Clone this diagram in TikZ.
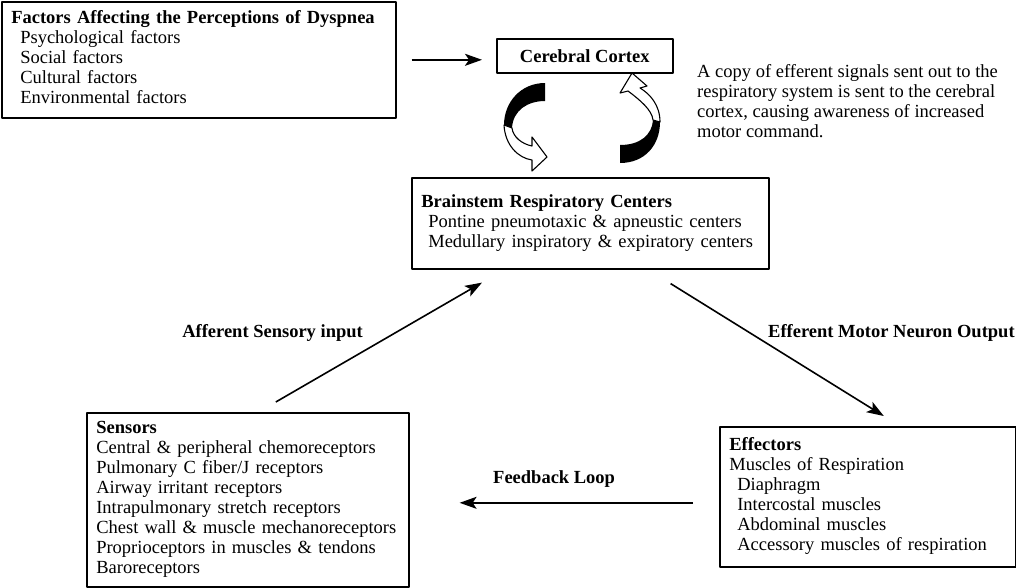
\documentclass[tikz,border=0pt]{standalone}
\usepackage{fontspec}
\setmainfont{Liberation Serif}
\usetikzlibrary{arrows.meta}
\tikzset{
  panel/.style={draw, line width=1.6pt, anchor=north west, inner xsep=9.5pt, inner ysep=0pt},
  flow/.style={line width=1.6pt, -{Stealth[length=17pt,width=12pt,inset=4pt]}},
  tag/.style={inner sep=0pt},
  swirl/.style={line width=1.1pt, line join=round}
}
\begin{document}
\begin{tikzpicture}[x=1pt,y=-1pt,font=\fontsize{18.5pt}{20pt}\selectfont, line join=round]
\useasboundingbox (0,0) rectangle (1016,587);
% boxes
\node[panel, text width=375pt, minimum height=116pt] (factors) at (1,1) {\begin{tabular}{@{}l@{}}
  \textbf{Factors Affecting the Perceptions of Dyspnea}\\
  \hspace{9pt}Psychological factors\\
  \hspace{9pt}Social factors\\
  \hspace{9pt}Cultural factors\\
  \hspace{9pt}Environmental factors\end{tabular}};
\node[panel, inner xsep=0pt, minimum width=176pt, minimum height=34pt] (cortex) at (496,38) {\textbf{Cerebral Cortex}};
\node[panel, text width=338pt, minimum height=91pt] (brainstem) at (411,177) {\begin{tabular}{@{}l@{}}
  \textbf{Brainstem Respiratory Centers}\\
  \hspace{7pt}Pontine pneumotaxic \& apneustic centers\\
  \hspace{7pt}Medullary inspiratory \& expiratory centers\end{tabular}};
\node[panel, text width=303pt, minimum height=174pt] (sensors) at (86,412) {\begin{tabular}{@{}l@{}}
  \textbf{Sensors}\\
  Central \& peripheral chemoreceptors\\
  Pulmonary C fiber/J receptors\\
  Airway irritant receptors\\
  Intrapulmonary stretch receptors\\
  Chest wall \& muscle mechanoreceptors\\
  Proprioceptors in muscles \& tendons\\
  Baroreceptors\end{tabular}};
\node[panel, text width=277pt, minimum height=140pt] (effectors) at (719,426) {\begin{tabular}{@{}l@{}}
  \textbf{Effectors}\\
  Muscles of Respiration\\
  \hspace{8pt}Diaphragm\\
  \hspace{8pt}Intercostal muscles\\
  \hspace{8pt}Abdominal muscles\\
  \hspace{8pt}Accessory muscles of respiration\end{tabular}};
\node[tag, anchor=north west, align=left] (copynote) at (697,64) {A copy of efferent signals sent out to the\\
  respiratory system is sent to the cerebral\\
  cortex, causing awareness of increased\\
  motor command.};
% labels
\node[tag, anchor=base east] (afferent) at (363,337) {\textbf{Afferent Sensory input}};
\node[tag, anchor=base west] (efferent) at (768,337) {\textbf{Efferent Motor Neuron Output}};
\node[tag, anchor=base west] (feedback) at (493,483) {\textbf{Feedback Loop}};
% connectors
\draw[flow, shorten <=15pt, shorten >=14pt] (factors.east) -- (factors.east -| cortex.west);
\draw[flow] ([shift={(28pt,10pt)}]sensors.north) -- ([shift={(71pt,-13pt)}]brainstem.south west);
\draw[flow] ([shift={(-99pt,-14pt)}]brainstem.south east) -- ([shift={(16pt,10pt)}]effectors.north);
\draw[flow] ([shift={(-26pt,-6pt)}]effectors.west) -- ([shift={(50pt,-3pt)}]sensors.east);
% swirl arrows
\fill (545,83) .. controls (521,83) and (504,102) .. (504,125) -- (512,128) .. controls (513,110) and (528,101) .. (545,101) -- cycle;
\draw[swirl, fill=white] (504,125) .. controls (505,145) and (518,158) .. (532,160) -- (532,171) -- (547,157) -- (532,137) -- (532,146) .. controls (522,144) and (513,137) .. (512,128) -- cycle;
\fill (620,163) .. controls (645,163) and (660,145) .. (660,122) -- (653,120) .. controls (652,135) and (640,145) .. (620,145) -- cycle;
\draw[swirl, fill=white] (660,122) .. controls (660,105) and (650,94) .. (640,88) -- (647,86) -- (632,73) -- (620,93) -- (628,91) .. controls (640,100) and (652,110) .. (653,120) -- cycle;
\end{tikzpicture}
\end{document}
